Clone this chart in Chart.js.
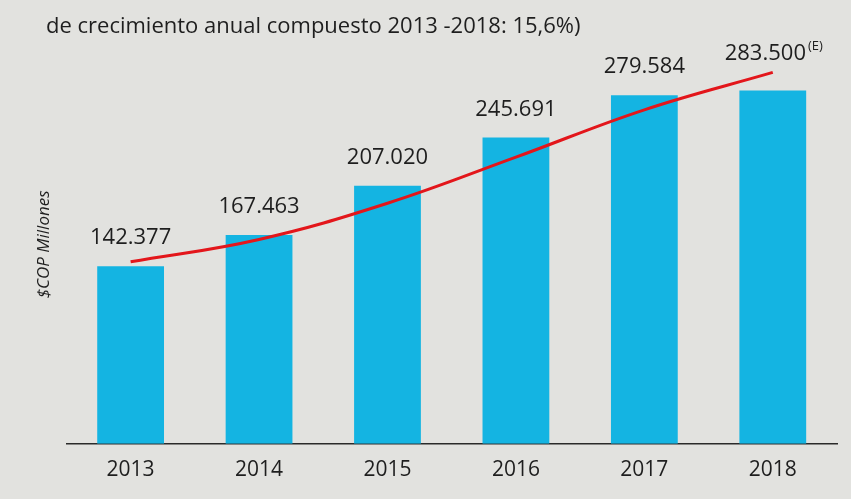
<!DOCTYPE html>
<html>
<head>
<meta charset="utf-8">
<script src="https://cdn.jsdelivr.net/npm/chart.js@4.4.1/dist/chart.umd.min.js"></script>
<style>
html,body{margin:0;padding:0;background:#e2e2df;}
#wrap{width:851px;height:499px;position:relative;}
</style>
</head>
<body>
<div id="wrap"><canvas id="c" width="851" height="499"></canvas></div>
<script>
const categories = ['2013', '2014', '2015', '2016', '2017', '2018'];
const ventas = [142377, 167463, 207020, 245691, 279584, 283500];
const tendencia = [146000, 164000, 193000, 230000, 268000, 298000];
const valueLabels = ['142.377', '167.463', '207.020', '245.691', '279.584', '283.500'];
const labelSuffix = ['', '', '', '', '', '(E)'];
const subtitleText = 'de crecimiento anual compuesto 2013 -2018: 15,6%)';

const bgPlugin = {
  id: 'bg',
  beforeDraw(chart) {
    const ctx = chart.ctx;
    ctx.save();
    ctx.fillStyle = '#e2e2df';
    ctx.fillRect(0, 0, chart.width, chart.height);
    ctx.restore();
  }
};

const textPlugin = {
  id: 'texts',
  afterDatasetsDraw(chart) {
    const ctx = chart.ctx;
    ctx.save();
    ctx.fillStyle = '#1e1e1e';
    ctx.font = '22px "Open Sans", "DejaVu Sans", sans-serif';
    ctx.textAlign = 'left';
    ctx.textBaseline = 'alphabetic';
    ctx.fillText(subtitleText, 46, 33);
    const meta = chart.getDatasetMeta(1);
    meta.data.forEach((el, i) => {
      ctx.font = '22px "Open Sans", "DejaVu Sans", sans-serif';
      ctx.textAlign = 'center';
      ctx.fillStyle = '#1e1e1e';
      const txt = valueLabels[i];
      const w = ctx.measureText(txt).width;
      const suf = labelSuffix[i];
      let cx = el.x;
      const off = suf ? 30 : 22;
      if (suf) {
        ctx.font = '13px "Open Sans", "DejaVu Sans", sans-serif';
        const sw = ctx.measureText(suf).width;
        cx = el.x - sw / 2;
        ctx.textAlign = 'left';
        ctx.fillText(suf, cx + w / 2 + 2, el.y - off - 10);
        ctx.font = '22px "Open Sans", "DejaVu Sans", sans-serif';
        ctx.textAlign = 'center';
      }
      ctx.fillText(txt, cx, el.y - off);
    });
    ctx.restore();
  }
};

new Chart(document.getElementById('c'), {
  data: {
    labels: categories,
    datasets: [
      {
        type: 'line',
        label: 'Tendencia',
        data: tendencia,
        borderColor: '#e3161b',
        borderWidth: 3,
        tension: 0.4,
        pointRadius: 0,
        fill: false,
        order: 0
      },
      {
        type: 'bar',
        label: 'Ventas',
        data: ventas,
        backgroundColor: '#14b4e2',
        barPercentage: 0.52,
        categoryPercentage: 1.0,
        order: 1
      }
    ]
  },
  options: {
    responsive: false,
    animation: false,
    devicePixelRatio: 1,
    layout: { padding: { top: 45, left: 30, right: 14, bottom: 10 } },
    plugins: {
      legend: { display: false },
      tooltip: { enabled: false },
      title: { display: false }
    },
    scales: {
      x: {
        grid: { display: false },
        border: { display: true, color: '#2a2a2a', width: 1.5 },
        ticks: {
          color: '#1e1e1e',
          font: { family: '"Open Sans", "DejaVu Sans", sans-serif', size: 21 },
          padding: 6
        }
      },
      y: {
        min: 0,
        max: 320000,
        grid: { display: false },
        border: { display: false },
        ticks: { display: false },
        title: {
          display: true,
          text: '$COP Millones',
          color: '#1e1e1e',
          font: { family: '"Open Sans", "DejaVu Sans", sans-serif', size: 17, style: 'italic' },
          padding: 4
        }
      }
    }
  },
  plugins: [bgPlugin, textPlugin]
});
</script>
</body>
</html>
